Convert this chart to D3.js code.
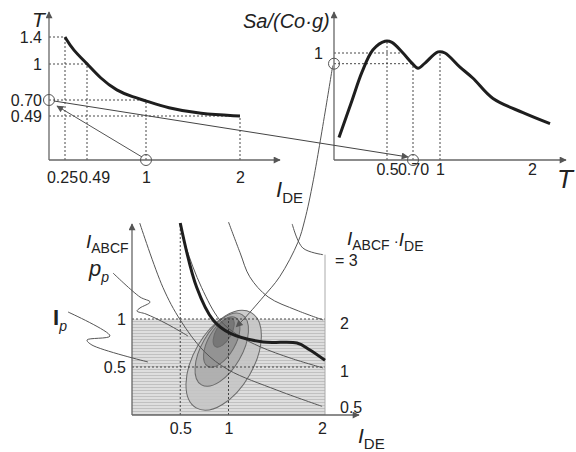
<!DOCTYPE html>
<html>
<head>
<meta charset="utf-8">
<script src="https://cdn.jsdelivr.net/npm/d3@7"></script>
<style>
body { margin: 0; background: #fff; }
text { font-family: "Liberation Sans", Arial, sans-serif; fill: #222; }
</style>
</head>
<body>
<div id="chart"></div>
<script>
// top left: period T against I_DE
var ideVals = [0.25, 0.337, 0.49, 0.602, 0.749, 0.888, 1, 1.223, 1.574, 2];
var tVals = [1.4, 1.207, 1.008, 0.883, 0.775, 0.725, 0.69, 0.595, 0.516, 0.49];
var leftXTicks = [0.25, 0.49, 1, 2];
var leftXLabels = ["0.25", "0.49", "1", "2"];
var leftYTicks = [0.49, 0.7, 1, 1.4];
var leftYLabels = ["0.49", "0.70", "1", "1.4"];

// top right: spectrum Sa/(Co*g) against T
var specT = [0.047, 0.17, 0.264, 0.368, 0.481, 0.538, 0.623, 0.692, 0.756, 0.833, 0.978, 1.054, 1.217, 1.359, 1.576, 1.902, 2.196];
var specSa = [0.21, 0.557, 0.821, 1.03, 1.11, 1.10, 1.0, 0.906, 0.858, 0.906, 1.01, 1.0, 0.868, 0.764, 0.575, 0.443, 0.34];
var rightXTicks = [0.5, 0.7, 1, 2];
var rightXLabels = ["0.5", "0.70", "1", "2"];
var rightYTicks = [1];

// bottom: I_ABCF against I_DE
var thickIde = [0.5, 0.67, 0.84, 1.02, 1.36, 1.71, 1.84, 2.0];
var thickAbcf = [2.0, 1.33, 0.99, 0.85, 0.76, 0.75, 0.68, 0.57];
var prodLabels = ["0.5", "1", "2", "= 3"];
var prodIde = [
    [0.08, 0.32, 0.5, 0.75, 1.0, 1.5, 1.97],
    [0.5, 0.56, 0.72, 0.91, 1.1, 1.33, 1.65, 1.98],
    [1.0, 1.12, 1.22, 1.41, 1.71, 1.98],
    [1.66, 1.77, 1.98]
];
var prodAbcf = [
    [2.0, 1.33, 0.99, 0.66, 0.47, 0.26, 0.09],
    [2.0, 1.75, 1.33, 0.99, 0.83, 0.71, 0.59, 0.49],
    [2.01, 1.69, 1.44, 1.23, 1.09, 0.99],
    [1.99, 1.74, 1.67]
];
var bottomXTicks = [0.5, 1, 2];
var bottomYTicks = [0.5, 1];
// probability contours (centre, semi axes)
var ellIde = [0.95, 0.93, 0.93, 0.95];
var ellAbcf = [0.57, 0.68, 0.76, 0.86];
var ellA = [0.57, 0.42, 0.29, 0.17];
var ellB = [0.31, 0.21, 0.14, 0.08];
var ellFill = ["#c4c4c4", "#acacac", "#8e8e8e", "#727272"];

// annotation leaders in bottom-panel units
var arrowIde = [2.08, 1.88, 1.79, 1.72, 1.53, 1.36, 1.15, 1.08];
var arrowAbcf = [3.64, 2.45, 2.03, 1.80, 1.44, 1.23, 0.99, 0.92];
var ppIde = [-0.197, 0.083, 0.187, 0.083, 0.052, 0.145, 0.363, 0.58];
var ppAbcf = [1.479, 1.229, 1.177, 1.115, 1.083, 1.052, 0.948, 0.823];
var ipIde = [-0.663, -0.228, -0.466, -0.415, 0.166];
var ipAbcf = [1.073, 0.823, 0.781, 0.729, 0.552];

var svgWidth = 576;
var svgHeight = 452;

var svg = d3.select("#chart")
    .append("svg")
    .attr("width", svgWidth)
    .attr("height", svgHeight);

var defs = svg.append("defs");
defs.append("marker")
    .attr("id", "arrow")
    .attr("viewBox", "0 0 10 10")
    .attr("refX", 9).attr("refY", 5)
    .attr("markerWidth", 9).attr("markerHeight", 7)
    .attr("markerUnits", "userSpaceOnUse")
    .attr("orient", "auto")
    .append("path")
    .attr("d", "M0,0 L10,5 L0,10 z")
    .attr("fill", "#555");

var hatch = defs.append("pattern")
    .attr("id", "hatch")
    .attr("width", 4).attr("height", 3)
    .attr("patternUnits", "userSpaceOnUse");
hatch.append("rect").attr("width", 4).attr("height", 3).attr("fill", "#dedede");
hatch.append("rect").attr("width", 4).attr("height", 1).attr("fill", "#c0c0c0");

// ---------- scales
var xL = d3.scaleLinear().domain([0, 0.25, 0.49, 1, 2]).range([49, 65, 87, 146, 240]);
var yL = d3.scaleLinear().domain([0, 0.49, 0.7, 1, 1.4]).range([160, 116, 100, 64, 37]);
var xR = d3.scaleLinear().domain([0, 0.5, 0.7, 1, 2]).range([334, 387, 413, 440, 532]);
var yR = d3.scaleLinear().domain([0, 1]).range([160, 53]);
var xB = d3.scaleLinear().domain([0, 2]).range([132, 325]);
var yB = d3.scaleLinear().domain([0, 2]).range([415, 223]);

function axisLine(x1, y1, x2, y2) {
    svg.append("line")
        .attr("x1", x1).attr("y1", y1)
        .attr("x2", x2).attr("y2", y2)
        .attr("stroke", "#666")
        .attr("stroke-width", 1.3)
        .attr("marker-end", "url(#arrow)");
}

function dashed(x1, y1, x2, y2) {
    svg.append("line")
        .attr("x1", x1).attr("y1", y1)
        .attr("x2", x2).attr("y2", y2)
        .attr("stroke", "#333")
        .attr("stroke-width", 0.9)
        .attr("stroke-dasharray", "2,2");
}

function ring(cx, cy) {
    svg.append("circle")
        .attr("cx", cx).attr("cy", cy).attr("r", 5.5)
        .attr("fill", "none")
        .attr("stroke", "#555")
        .attr("stroke-width", 1);
}

function styleAxis(g, size) {
    g.select(".domain").remove();
    g.selectAll("text").style("font-size", size + "px").attr("fill", "#222");
}

// ---------- top left panel
var leftData = ideVals.map((d, i) => [d, tVals[i]]);

leftYTicks.forEach(function (t, i) {
    var ide = leftXTicks[3 - i];
    dashed(xL(0), yL(t), xL(ide), yL(t));
    dashed(xL(ide), yL(0), xL(ide), yL(t));
});

var leftX = svg.append("g")
    .attr("transform", `translate(0, ${yL(0)})`)
    .call(d3.axisBottom(xL).tickValues(leftXTicks).tickSize(0).tickPadding(12)
        .tickFormat((d, i) => leftXLabels[i]));
styleAxis(leftX, 16);
leftX.selectAll("text").attr("dx", (d, i) => i === 0 ? -3 : i === 1 ? 7 : 0);

var leftY = svg.append("g")
    .attr("transform", `translate(${xL(0)}, 0)`)
    .call(d3.axisLeft(yL).tickValues(leftYTicks).tickSize(0).tickPadding(7)
        .tickFormat((d, i) => leftYLabels[i]));
styleAxis(leftY, 16);

axisLine(xL(0), yL(0), xL(0), 12);
axisLine(xL(0), yL(0), 280, yL(0));

svg.append("path")
    .datum(leftData)
    .attr("d", d3.line().x(d => xL(d[0])).y(d => yL(d[1])).curve(d3.curveBasis))
    .attr("fill", "none")
    .attr("stroke", "#1e1e1e")
    .attr("stroke-width", 3);

// ---------- top right panel
var specData = specT.map((d, i) => [d, specSa[i]]);

dashed(xR(0), yR(1), xR(0.623), yR(1));
dashed(xR(0), yR(0.9), xR(0.7), yR(0.9));
dashed(xR(0.5), yR(0), xR(0.5), yR(1.11));
dashed(xR(0.7), yR(0), xR(0.7), yR(0.9));
dashed(xR(1), yR(0), xR(1), yR(1.0));

var rightX = svg.append("g")
    .attr("transform", `translate(0, ${yR(0)})`)
    .call(d3.axisBottom(xR).tickValues(rightXTicks).tickSize(0).tickPadding(4)
        .tickFormat((d, i) => rightXLabels[i]));
styleAxis(rightX, 16);

var rightY = svg.append("g")
    .attr("transform", `translate(${xR(0)}, 0)`)
    .call(d3.axisLeft(yR).tickValues(rightYTicks).tickSize(0).tickPadding(11)
        .tickFormat(d3.format("")));
styleAxis(rightY, 16);

axisLine(xR(0), yR(0), xR(0), 12);
axisLine(xR(0), yR(0), 566, yR(0));

svg.append("path")
    .datum(specData)
    .attr("d", d3.line().x(d => xR(d[0])).y(d => yR(d[1])).curve(d3.curveCatmullRom))
    .attr("fill", "none")
    .attr("stroke", "#1e1e1e")
    .attr("stroke-width", 3);

// connectors between top panels
ring(xL(0), yL(0.7));
ring(xL(1), yL(0));
ring(xR(0), yR(0.9));
ring(xR(0.7), yR(0));

svg.append("line")
    .attr("x1", xL(0) + 5).attr("y1", yL(0.7) + 1)
    .attr("x2", xR(0.7) - 5).attr("y2", yR(0) - 3)
    .attr("stroke", "#444").attr("stroke-width", 1)
    .attr("marker-end", "url(#arrow)");

svg.append("line")
    .attr("x1", xL(1) - 4).attr("y1", yL(0) - 3)
    .attr("x2", xL(0) + 8).attr("y2", yL(0.7) + 6)
    .attr("stroke", "#555").attr("stroke-width", 1)
    .attr("marker-end", "url(#arrow)");

// ---------- bottom panel
svg.append("rect")
    .attr("x", xB(0)).attr("y", yB(1))
    .attr("width", xB(2) - xB(0)).attr("height", yB(0) - yB(1))
    .attr("fill", "url(#hatch)");

ellIde.forEach(function (c, i) {
    var cx = xB(c), cy = yB(ellAbcf[i]);
    svg.append("ellipse")
        .attr("cx", cx).attr("cy", cy)
        .attr("rx", xB(ellA[i]) - xB(0))
        .attr("ry", yB(0) - yB(ellB[i]))
        .attr("transform", `rotate(-60, ${cx}, ${cy})`)
        .attr("fill", ellFill[i])
        .attr("fill-opacity", 0.85)
        .attr("stroke", "#6a6a6a")
        .attr("stroke-width", 1);
});

dashed(xB(0), yB(1), xB(2), yB(1));
dashed(xB(0), yB(0.5), xB(2), yB(0.5));
dashed(xB(0.5), yB(0), xB(0.5), yB(2));
dashed(xB(1), yB(0), xB(1), yB(1));
svg.append("line")
    .attr("x1", xB(2)).attr("y1", yB(0))
    .attr("x2", xB(2)).attr("y2", yB(prodAbcf[3][2]))
    .attr("stroke", "#aaa").attr("stroke-width", 1);

var bLine = d3.line().x(d => xB(d[0])).y(d => yB(d[1])).curve(d3.curveCatmullRom);

prodIde.forEach(function (xs, i) {
    var pts = xs.map((d, j) => [d, prodAbcf[i][j]]);
    svg.append("path")
        .datum(pts)
        .attr("d", bLine)
        .attr("fill", "none")
        .attr("stroke", "#555")
        .attr("stroke-width", 1);
    var last = pts[pts.length - 1];
    svg.append("text")
        .attr("x", xB(2) + (i === 3 ? 10 : 15))
        .attr("y", yB(last[1]) + (i === 0 ? 2 : i === 3 ? 7 : 5))
        .attr("dominant-baseline", "middle")
        .style("font-size", "16px")
        .text(prodLabels[i]);
});

svg.append("path")
    .datum(thickIde.map((d, i) => [d, thickAbcf[i]]))
    .attr("d", bLine)
    .attr("fill", "none")
    .attr("stroke", "#1e1e1e")
    .attr("stroke-width", 3);

var bottomX = svg.append("g")
    .attr("transform", `translate(0, ${yB(0)})`)
    .call(d3.axisBottom(xB).tickValues(bottomXTicks).tickSize(0).tickPadding(8)
        .tickFormat(d3.format("")));
styleAxis(bottomX, 16);
bottomX.selectAll("text").attr("dx", d => d === 2 ? -3 : 0);

var bottomY = svg.append("g")
    .attr("transform", `translate(${xB(0)}, 0)`)
    .call(d3.axisLeft(yB).tickValues(bottomYTicks).tickSize(0).tickPadding(6)
        .tickFormat(d3.format("")));
styleAxis(bottomY, 16);

axisLine(xB(0), yB(0), xB(0), 224);
axisLine(xB(0), yB(0), 359, yB(0));

// leaders
svg.append("path")
    .datum(arrowIde.map((d, i) => [d, arrowAbcf[i]]))
    .attr("d", bLine)
    .attr("fill", "none")
    .attr("stroke", "#555")
    .attr("stroke-width", 1)
    .attr("marker-end", "url(#arrow)");

[[ppIde, ppAbcf], [ipIde, ipAbcf]].forEach(function (p) {
    svg.append("path")
        .datum(p[0].map((d, i) => [d, p[1][i]]))
        .attr("d", bLine)
        .attr("fill", "none")
        .attr("stroke", "#555")
        .attr("stroke-width", 1);
});

// ---------- labels
function label(x, y, main, sub, mainSize, subSize, italic, bold) {
    var t = svg.append("text").attr("x", x).attr("y", y);
    t.append("tspan")
        .style("font-size", mainSize + "px")
        .style("font-style", italic ? "italic" : "normal")
        .style("font-weight", bold ? "bold" : "normal")
        .text(main);
    if (sub) {
        t.append("tspan")
            .attr("dy", mainSize * 0.28)
            .style("font-size", subSize + "px")
            .style("font-style", sub === "p" ? "italic" : "normal")
            .text(sub);
    }
    return t;
}

label(32, 27, "T", null, 21, 0, true);
label(276, 197, "I", "DE", 22, 15, true);
label(243, 28, "Sa/(Co·g)", null, 20, 0, true);
label(557, 188, "T", null, 26, 0, true);

label(86, 248, "I", "ABCF", 19, 14, true);
label(89, 276, "p", "p", 22, 14, true);
label(53, 325, "I", "p", 22, 14, false, true);
label(358, 443, "I", "DE", 21, 15, true);

var prodLabel = label(347, 245, "I", "ABCF", 19, 14, true);
prodLabel.append("tspan").attr("dy", -4).style("font-size", "15px").text(" ·");
prodLabel.append("tspan").style("font-size", "19px").style("font-style", "italic").text("I");
prodLabel.append("tspan").attr("dy", 5).style("font-size", "14px").text("DE");
</script>
</body>
</html>
